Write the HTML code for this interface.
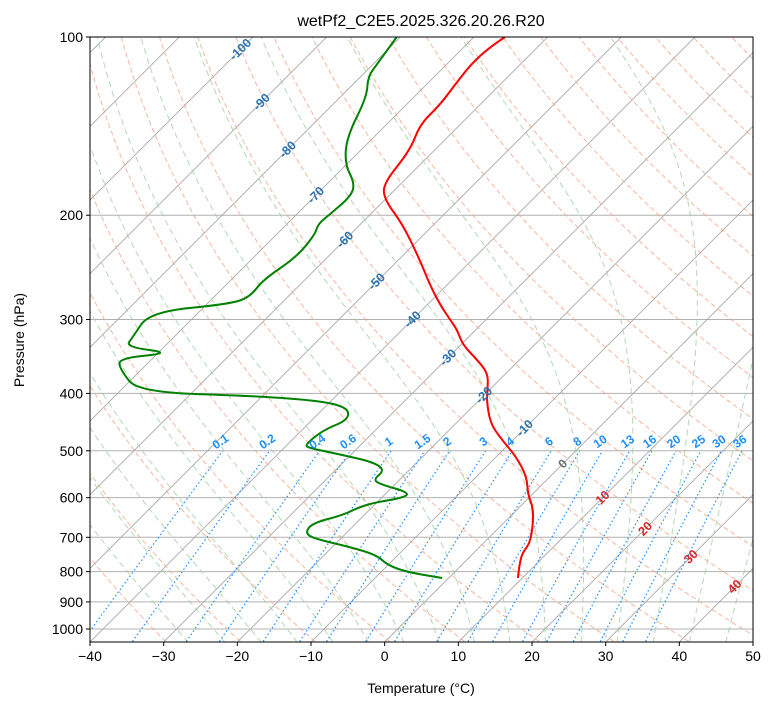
<!DOCTYPE html>
<html><head><meta charset="utf-8"><style>
body{margin:0;background:#fff;}
svg text{font-family:"Liberation Sans",sans-serif;}
</style></head><body>
<svg id="chart" width="775" height="708" xmlns="http://www.w3.org/2000/svg">
<defs><clipPath id="clip"><rect x="90" y="37" width="663" height="605"/></clipPath></defs>
<rect width="775" height="708" fill="#fff"/>
<text x="421" y="26" font-size="16" text-anchor="middle">wetPf2_C2E5.2025.326.20.26.R20</text>
<g id="plot" clip-path="url(#clip)"></g>
<g id="labels"></g>
<rect x="90" y="37" width="663" height="605" fill="none" stroke="#000" stroke-width="1"/>
<g id="axes"></g>
<text x="421" y="693" font-size="14" text-anchor="middle">Temperature (°C)</text>
<text transform="translate(24,340) rotate(-90)" font-size="14" text-anchor="middle">Pressure (hPa)</text>
</svg>
<script>
// ---- data ----
const tempP = [100,104,111.5,120.5,130.3,140.3,155.2,177.1,188.5,207,238,262.4,283.6,300.6,312.6,331.4,351.3,369.6,391.6,410.5,448.7,474,512.4,553.8,593.7,622.2,662.2,715.6,743.9,773.3,820];
const tempT = [-65.8,-66.5,-66.7,-66.1,-65.4,-65.5,-63.3,-62.4,-60,-54.3,-47.1,-42.3,-38.2,-34.8,-32.5,-29.7,-25.7,-22.5,-20.5,-19,-15.4,-12.2,-7.2,-3.1,-0.5,1.8,4,6.3,6.6,7.6,9.4];
const dewP = [100,111,116.8,126.3,147.5,163.9,177.1,186.3,199.1,207,215.2,235.3,257.3,275,282.5,291.4,321.2,333.9,341.9,348.6,365.1,397.9,404.1,412.1,423.4,443.6,461.2,489,494.8,508.4,522.4,539,560.3,571.3,587,598.4,612.6,624.6,641.8,662.2,685.7,702,727,749.9,779.6,801,820];
const dewT = [-80.5,-79.5,-79,-76.4,-73.7,-70.3,-66.2,-65.1,-65.5,-65.8,-64.8,-64.2,-65.7,-65.1,-66.9,-76.7,-75.6,-75.2,-68,-74.7,-72.8,-67.4,-50.7,-41.1,-36.7,-35.1,-37.1,-37.6,-36.5,-31,-26,-23.3,-23.6,-21.5,-17.3,-16.7,-20.5,-21.9,-22.9,-25.9,-25.7,-24,-17.6,-12.9,-10.1,-6.5,-0.9];
const xTicks = [-40,-30,-20,-10,0,10,20,30,40,50];
const pTicks = [100,200,300,400,500,600,700,800,900,1000];
const mixRatios = [0.1,0.2,0.4,0.6,1,1.5,2,3,4,6,8,10,13,16,20,25,30,36];
const isoLabelT = [-100,-90,-80,-70,-60,-50,-40,-30,-20,-10,0,10,20,30,40];
const isoLabelP = [105,128.8,155,185,220,259,300,348,403,458,526,600,677,755,848];

// ---- axis functions ----
const X0=90,X1=753,Y0=37,Y1=642,K=592,TMIN=-40,TMAX=50;
const SC=(X1-X0)/(TMAX-TMIN);
function yOf(p){return Y0+K*Math.log10(p/100);}
function xOf(T,p){const y=yOf(p);return X0+(T-TMIN)*SC+(Y1-y);}
const NS="http://www.w3.org/2000/svg";
const plot=document.getElementById('plot'),labels=document.getElementById('labels'),axes=document.getElementById('axes');
function mk(tag,attrs,parent){const e=document.createElementNS(NS,tag);for(const k in attrs)e.setAttribute(k,attrs[k]);parent.appendChild(e);return e;}
function pathFrom(pts){return pts.map((q,i)=>(i?'L':'M')+q[0].toFixed(1)+','+q[1].toFixed(1)).join('');}
function smoothPath(pts){
  let d='M'+pts[0][0].toFixed(1)+','+pts[0][1].toFixed(1);
  for(let i=1;i<pts.length-1;i++){
    const mx=(pts[i][0]+pts[i+1][0])/2,my=(pts[i][1]+pts[i+1][1])/2;
    d+='Q'+pts[i][0].toFixed(1)+','+pts[i][1].toFixed(1)+' '+mx.toFixed(1)+','+my.toFixed(1);
  }
  const l=pts[pts.length-1];d+='L'+l[0].toFixed(1)+','+l[1].toFixed(1);return d;
}
const pLevels=[];for(let p=1050;p>=95;p-=5)pLevels.push(p);

pTicks.forEach(p=>{
  const l=mk('line',{x1:X0,x2:X1,y1:yOf(p),y2:yOf(p),stroke:'#b0b0b0','stroke-width':1},plot);
  
  
});
for(let T=-160;T<=50;T+=10){
  const l=mk('line',{x1:xOf(T,1050),y1:yOf(1050),x2:xOf(T,95),y2:yOf(95),stroke:'#a8a8a8','stroke-width':0.9},plot);
  
  
}
for(let th=200;th<=480;th+=10){
  const pts=pLevels.map(p=>[xOf(th*Math.pow(p/1000,0.286)-273.15,p),yOf(p)]);
  const col=th<240?'#d9b38c':'#f4a58a';
  const e=mk('path',{d:pathFrom(pts),fill:'none',stroke:col,'stroke-width':1,'stroke-dasharray':'5,3',opacity:0.8},plot);
  
  
}
function es(Tc){return 6.112*Math.exp(17.67*Tc/(Tc+243.5));}
function moistSlope(T,p){const Tc=T-273.15;const rs=0.622*es(Tc)/(p-es(Tc));const Rd=287,Lv=2.5e6,Cp=1005;
  return (Rd*T+Lv*rs)/(p*(Cp+Lv*Lv*rs*0.622/(Rd*T*T)));}
for(let t0=-30;t0<=45;t0+=5){
  let T=t0+273.15;const up=[];let p=1000;
  while(p>=95){up.push([xOf(T-273.15,p),yOf(p)]);const dp=-2;T+=moistSlope(T,p)*dp;p+=dp;}
  T=t0+273.15;p=1000;const dn=[];
  while(p<=1052){T+=moistSlope(T,p)*2;p+=2;dn.push([xOf(T-273.15,p),yOf(p)]);}
  const pts=dn.reverse().concat(up);
  const e=mk('path',{d:pathFrom(pts),fill:'none',stroke:'#9fd09f','stroke-width':1,'stroke-dasharray':'6,4',opacity:0.8},plot);
  
  
}
function tdOf(w,p){const e=w*p/(622+w);const l=Math.log(e/6.112);return 243.5*l/(17.67-l);}
mixRatios.forEach(w=>{
  const pts=[];for(let p=1050;p>=500;p-=10)pts.push([xOf(tdOf(w,p),p),yOf(p)]);
  const e=mk('path',{d:pathFrom(pts),fill:'none',stroke:'#1e90ff','stroke-width':1.2,'stroke-dasharray':'1.5,2.5'},plot);
  
  
  const x=xOf(tdOf(w,500),500),y=yOf(500)-6;
  const t=mk('text',{x:x,y:y,'font-size':12,'font-weight':'bold',fill:'#1e90ff','text-anchor':'middle',transform:`rotate(-35 ${x} ${y})`},labels);
  t.textContent=String(w);
  
  
});
isoLabelT.forEach((T,i)=>{
  const p=isoLabelP[i],x=xOf(T,p),y=yOf(p)+4;
  const col=T<0?'#2a72b0':(T===0?'#707070':'#d62728');
  const t=mk('text',{x:x,y:y,'font-size':12.5,'font-weight':'bold',fill:col,'text-anchor':'middle',transform:`rotate(-45 ${x} ${y-4})`},labels);
  t.textContent=String(T);
  
  
});
const tp=tempP.map((p,i)=>[xOf(tempT[i],p),yOf(p)]);
const tl=mk('path',{d:smoothPath(tp),fill:'none',stroke:'#ff0000','stroke-width':2,'stroke-linejoin':'round'},plot);


const dpp=dewP.map((p,i)=>[xOf(dewT[i],p),yOf(p)]);
const dl=mk('path',{d:smoothPath(dpp),fill:'none',stroke:'#008000','stroke-width':2,'stroke-linejoin':'round'},plot);


xTicks.forEach(T=>{
  const x=X0+(T-TMIN)*SC;
  const l=mk('line',{x1:x,x2:x,y1:Y1,y2:Y1+4,stroke:'#000'},axes);
  
  
  const t=mk('text',{x:x,y:Y1+19,'font-size':14,'text-anchor':'middle'},axes);
  t.textContent=(T<0?'\u2212':'')+Math.abs(T);
  
  
});
pTicks.forEach(p=>{
  const y=yOf(p);
  const l=mk('line',{x1:X0-4,x2:X0,y1:y,y2:y,stroke:'#000'},axes);
  
  
  const t=mk('text',{x:X0-7,y:y+5,'font-size':14,'text-anchor':'end'},axes);
  t.textContent=String(p);
  
  
});
</script>
</body></html>
